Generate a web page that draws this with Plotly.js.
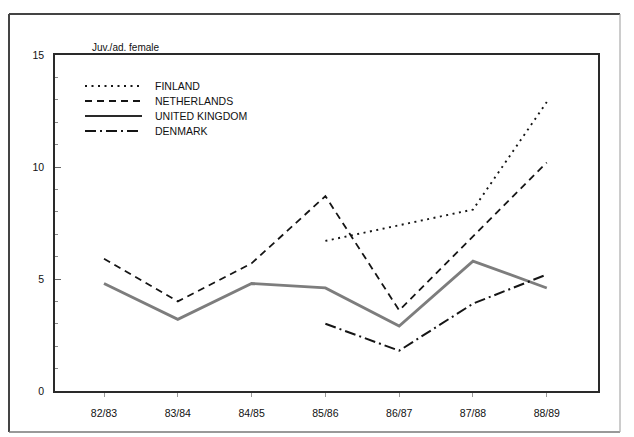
<!DOCTYPE html>
<html>
<head>
<meta charset="utf-8">
<script src="https://cdn.plot.ly/plotly-3.0.1.min.js"></script>
<style>
  html, body { margin: 0; padding: 0; background: #fff; }
  #chart { width: 634px; height: 437px; }
</style>
</head>
<body>
<div id="chart"></div>
<script>
// Breeding seasons
const seasons = ["82/83", "83/84", "84/85", "85/86", "86/87", "87/88", "88/89"];

// Juvenile / adult female ratio per country
const finland     = [null, null, null, 6.7, 7.4, 8.1, 12.9];
const netherlands = [5.9, 4.0, 5.7, 8.7, 3.6, 6.9, 10.2];
const unitedKingdom = [4.8, 3.2, 4.8, 4.6, 2.9, 5.8, 4.6];
const denmark     = [null, null, null, 3.0, 1.8, 3.9, 5.2];

const countryNames = ["FINLAND", "NETHERLANDS", "UNITED KINGDOM", "DENMARK"];
const yTicks = [0, 5, 10, 15];

const styles = [
  { color: "#151515", width: 1.9, dash: "2px,4.5px" },
  { color: "#151515", width: 1.8, dash: "7px,5px" },
  { color: "#7d7d7d", width: 2.8, dash: "solid" },
  { color: "#151515", width: 2.0, dash: "11px,4px,2px,4px" }
];
const seriesData = [finland, netherlands, unitedKingdom, denmark];

const traces = seriesData.map((vals, i) => ({
  type: "scatter",
  mode: "lines",
  x: seasons,
  y: vals,
  name: countryNames[i],
  connectgaps: false,
  line: { color: styles[i].color, width: styles[i].width, dash: styles[i].dash },
  hoverinfo: "skip"
}));

const font = { family: "Liberation Sans, Arial, sans-serif", size: 10.5, color: "#111" };

// Hand-built legend in the upper-left corner of the plot area
const legendShapes = [];
const legendNotes = [];
const legendSample = [(85 - 55) / 543, (142 - 55) / 543];
const legendText = (153 - 55) / 543;
const legendRows = [86, 101, 116, 131];
countryNames.forEach((name, i) => {
  const yp = (391 - legendRows[i]) / 336;
  legendShapes.push({
    type: "line", xref: "paper", yref: "paper",
    x0: legendSample[0], x1: legendSample[1], y0: yp, y1: yp,
    line: { color: i === 2 ? "#2a2a2a" : styles[i].color, width: i === 2 ? 2.2 : styles[i].width, dash: styles[i].dash }
  });
  legendNotes.push({
    xref: "paper", yref: "paper", x: legendText, y: yp,
    xanchor: "left", yanchor: "middle", showarrow: false,
    text: name, font: { family: font.family, size: 10.5, color: "#111" }
  });
});

// Outer border of the figure, in pixel-derived paper coordinates
const bx0 = (9 - 55) / 543, bx1 = (620 - 55) / 543;
const by0 = (391 - 432) / 336, by1 = (391 - 14) / 336;
const border = [
  { x0: bx0, x1: bx0, y0: by0, y1: by1, color: "#444", width: 2 },
  { x0: bx0, x1: bx1, y0: by1, y1: by1, color: "#444", width: 2 },
  { x0: bx0, x1: bx1, y0: by0, y1: by0, color: "#777", width: 1.5 },
  { x0: bx1, x1: bx1, y0: by0, y1: by1, color: "#aaa", width: 1.2 }
].map(b => ({
  type: "line", xref: "paper", yref: "paper",
  x0: b.x0, x1: b.x1, y0: b.y0, y1: b.y1,
  line: { color: b.color, width: b.width }
}));

const layout = {
  width: 634, height: 437,
  margin: { l: 55, r: 36, t: 55, b: 46 },
  paper_bgcolor: "#fff", plot_bgcolor: "#fff",
  showlegend: false,
  font: font,
  xaxis: {
    type: "category",
    range: [-0.664, 6.694],
    showgrid: false, zeroline: false,
    showline: true, mirror: true, linecolor: "#2a2a2a", linewidth: 1.7,
    ticks: "outside", ticklen: 4, tickcolor: "#999", tickwidth: 1,
    ticklabelstandoff: 8,
    tickfont: font
  },
  yaxis: {
    range: [0, 15],
    tickvals: yTicks,
    ticktext: yTicks.map(String),
    showgrid: false, zeroline: false,
    showline: true, mirror: true, linecolor: "#2a2a2a", linewidth: 1.7,
    ticks: "inside", ticklen: 6, tickcolor: "#666", tickwidth: 1,
    minor: { dtick: 1, ticks: "inside", ticklen: 3, tickcolor: "#888", tickwidth: 1 },
    ticklabelstandoff: 7,
    tickfont: font
  },
  shapes: border.concat(legendShapes),
  annotations: [
    {
      xref: "paper", yref: "paper",
      x: (90 - 55) / 543, y: (391 - 47) / 336,
      xanchor: "left", yanchor: "middle", showarrow: false,
      text: "Juv./ad. female", font: { family: font.family, size: 10, color: "#111" }
    }
  ].concat(legendNotes)
};

Plotly.newPlot("chart", traces, layout, { staticPlot: true, displayModeBar: false });
</script>
</body>
</html>
